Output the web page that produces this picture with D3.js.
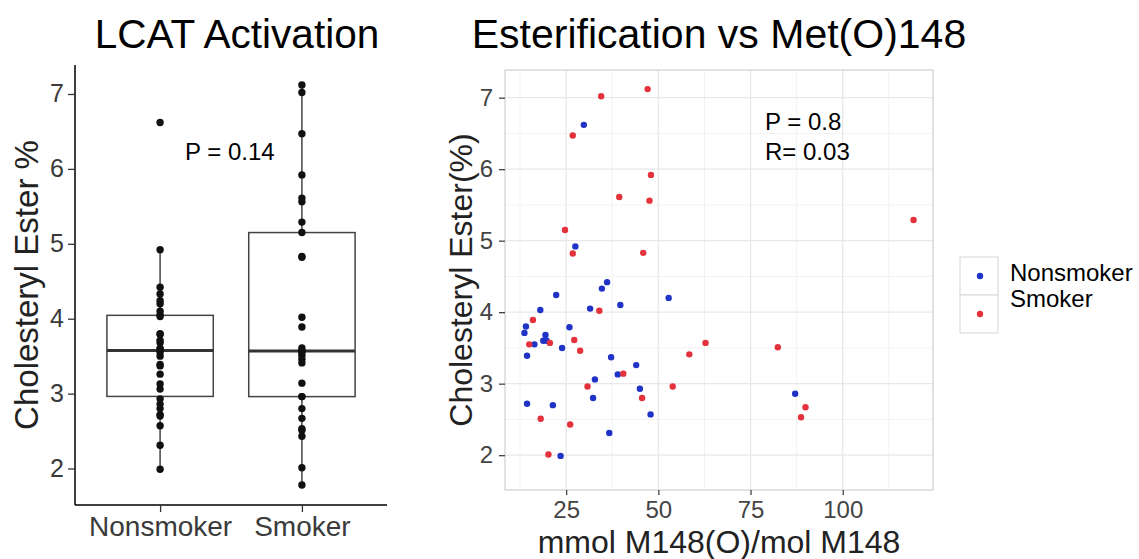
<!DOCTYPE html>
<html>
<head>
<meta charset="utf-8">
<script src="https://cdn.jsdelivr.net/npm/d3@7"></script>
<style>
  body { margin: 0; background: #fff; }
  svg { display: block; font-family: "Liberation Sans", Arial, sans-serif; }
</style>
</head>
<body>
<div id="container"></div>
<script>
//-----------------------------DATA-----------------------------//
const groups = ["Nonsmoker", "Smoker"];
// Met(O)148 (mmol/mol M148) and cholesteryl ester % per subject
const nonsmokerMetO = [29.8, 27.5, 36.1, 34.7, 22.3, 52.8, 39.7, 31.5, 18.0, 14.1, 13.7, 25.9, 19.4, 18.8, 19.7,
    16.4, 23.9, 14.4, 37.2, 44.0, 39.0, 32.8, 45.0, 32.3, 14.4, 21.4, 47.9, 36.7, 23.5, 87.1];
const nonsmokerCE = [6.62, 4.92, 4.42, 4.33, 4.24, 4.20, 4.10, 4.05, 4.03, 3.80, 3.71, 3.79, 3.68, 3.60, 3.60,
    3.55, 3.50, 3.39, 3.37, 3.26, 3.13, 3.06, 2.93, 2.80, 2.72, 2.70, 2.57, 2.31, 1.99, 2.86];
// last smoker has no Met(O) value, only shows in the box plot
const smokerMetO = [47.1, 34.5, 26.8, 48.0, 39.4, 47.6, 24.7, 26.8, 45.9, 119.2, 34.0, 16.0, 20.6, 15.0, 27.2,
    28.8, 40.5, 30.8, 53.9, 45.6, 18.1, 26.1, 20.2, 58.4, 62.8, 82.4, 89.9, 88.7, null];
const smokerCE = [7.12, 7.02, 6.47, 5.92, 5.61, 5.56, 5.15, 4.82, 4.83, 5.29, 4.02, 3.89, 3.57, 3.55, 3.61,
    3.46, 3.14, 2.96, 2.96, 2.80, 2.51, 2.43, 2.01, 3.41, 3.57, 3.51, 2.67, 2.53, 1.78];
const ceTicks = [2, 3, 4, 5, 6, 7];
const metTicks = [25, 50, 75, 100];
const metMinor = [12.5, 37.5, 62.5, 87.5, 112.5];
const ceMinor = [2.5, 3.5, 4.5, 5.5, 6.5];
const boxPValue = "P = 0.14";
const scatterStats = ["P = 0.8", "R= 0.03"];

const colors = {Nonsmoker: "#1f33c6", Smoker: "#e3323b"};

const width = 1139, height = 559;
const svg = d3.select("#container").append("svg")
    .attr("width", width)
    .attr("height", height);

// ggplot style 5% expansion
function expand(ext) {
    const d = (ext[1] - ext[0]) * 0.05;
    return [ext[0] - d, ext[1] + d];
}
const ceDomain = expand(d3.extent(nonsmokerCE.concat(smokerCE)));

//------------------------1. BOX PLOT---------------------------//
const L = {left: 75, right: 387, top: 65, bottom: 505};

const xBox = d3.scalePoint().domain(groups).range([L.left, L.right]).padding(0.6);
const yBox = d3.scaleLinear().domain(ceDomain).range([L.bottom, L.top]);

function boxStats(values) {
    const s = values.slice().sort(d3.ascending);
    const q1 = d3.quantileSorted(s, 0.25);
    const med = d3.quantileSorted(s, 0.5);
    const q3 = d3.quantileSorted(s, 0.75);
    const iqr = q3 - q1;
    const lo = d3.min(s.filter(v => v >= q1 - 1.5 * iqr));
    const hi = d3.max(s.filter(v => v <= q3 + 1.5 * iqr));
    return {q1: q1, med: med, q3: q3, lo: lo, hi: hi};
}
const boxData = [
    {group: "Nonsmoker", values: nonsmokerCE, st: boxStats(nonsmokerCE)},
    {group: "Smoker", values: smokerCE, st: boxStats(smokerCE)}
];
const bw = xBox.step() * 0.75;

const boxes = svg.append("g").selectAll("g")
    .data(boxData)
    .enter()
    .append("g");

// whiskers
boxes.append("line")
    .attr("x1", d => xBox(d.group)).attr("x2", d => xBox(d.group))
    .attr("y1", d => yBox(d.st.hi)).attr("y2", d => yBox(d.st.q3))
    .attr("stroke", "#444").attr("stroke-width", 1.5);
boxes.append("line")
    .attr("x1", d => xBox(d.group)).attr("x2", d => xBox(d.group))
    .attr("y1", d => yBox(d.st.q1)).attr("y2", d => yBox(d.st.lo))
    .attr("stroke", "#444").attr("stroke-width", 1.5);

boxes.append("rect")
    .attr("x", d => xBox(d.group) - bw / 2)
    .attr("width", bw)
    .attr("y", d => yBox(d.st.q3))
    .attr("height", d => yBox(d.st.q1) - yBox(d.st.q3))
    .attr("fill", "#fff")
    .attr("stroke", "#444")
    .attr("stroke-width", 1.5);

boxes.append("line")
    .attr("x1", d => xBox(d.group) - bw / 2).attr("x2", d => xBox(d.group) + bw / 2)
    .attr("y1", d => yBox(d.st.med)).attr("y2", d => yBox(d.st.med))
    .attr("stroke", "#333").attr("stroke-width", 3);

boxes.selectAll("circle")
    .data(d => d.values.map(v => ({group: d.group, v: v})))
    .enter()
    .append("circle")
    .attr("cx", d => xBox(d.group))
    .attr("cy", d => yBox(d.v))
    .attr("r", 3.7)
    .attr("fill", "#111");

// axes
const yAxisL = svg.append("g")
    .attr("transform", "translate(" + L.left + ",0)")
    .call(d3.axisLeft(yBox).tickValues(ceTicks).tickFormat(d3.format("d")).tickSize(7).tickPadding(4));
const xAxisL = svg.append("g")
    .attr("transform", "translate(0," + L.bottom + ")")
    .call(d3.axisBottom(xBox).tickSize(7).tickPadding(4));
[yAxisL, xAxisL].forEach(function (ax) {
    ax.select(".domain").attr("stroke", "#000").attr("stroke-width", 1.5);
    ax.selectAll(".tick line").attr("stroke", "#333").attr("stroke-width", 1.3);
    ax.selectAll(".tick text").attr("fill", "#3a3a3a").style("font-size", "25px");
});
xAxisL.select(".domain").attr("d", "M" + L.left + ",0H" + L.right);
yAxisL.select(".domain").attr("d", "M0," + L.top + "V" + L.bottom);
xAxisL.selectAll(".tick text").style("font-size", "28px");

svg.append("text")
    .attr("transform", "translate(38," + ((L.top + L.bottom) / 2) + ") rotate(-90)")
    .attr("text-anchor", "middle")
    .style("font-size", "33px")
    .attr("fill", "#222")
    .text("Cholesteryl Ester %");

svg.append("text")
    .attr("x", 237).attr("y", 48)
    .attr("text-anchor", "middle")
    .style("font-size", "40.5px")
    .text("LCAT Activation");

svg.append("text")
    .attr("x", 185).attr("y", 160)
    .style("font-size", "24px")
    .text(boxPValue);

//------------------------2. SCATTER----------------------------//
const R = {left: 505, right: 933, top: 70, bottom: 490};

const points = nonsmokerMetO.map((m, i) => ({group: "Nonsmoker", x: m, y: nonsmokerCE[i]}))
    .concat(smokerMetO.map((m, i) => ({group: "Smoker", x: m, y: smokerCE[i]})))
    .filter(d => d.x != null);

const xSc = d3.scaleLinear().domain(expand(d3.extent(points, d => d.x))).range([R.left, R.right]);
const ySc = d3.scaleLinear().domain(ceDomain).range([R.bottom, R.top]);

const grid = svg.append("g");
grid.selectAll(".vminor").data(metMinor).enter().append("line")
    .attr("x1", d => xSc(d)).attr("x2", d => xSc(d))
    .attr("y1", R.top).attr("y2", R.bottom)
    .attr("stroke", "#f3f3f3").attr("stroke-width", 1);
grid.selectAll(".hminor").data(ceMinor).enter().append("line")
    .attr("y1", d => ySc(d)).attr("y2", d => ySc(d))
    .attr("x1", R.left).attr("x2", R.right)
    .attr("stroke", "#f3f3f3").attr("stroke-width", 1);
grid.selectAll(".vmajor").data(metTicks).enter().append("line")
    .attr("x1", d => xSc(d)).attr("x2", d => xSc(d))
    .attr("y1", R.top).attr("y2", R.bottom)
    .attr("stroke", "#e8e8e8").attr("stroke-width", 1.3);
grid.selectAll(".hmajor").data(ceTicks).enter().append("line")
    .attr("y1", d => ySc(d)).attr("y2", d => ySc(d))
    .attr("x1", R.left).attr("x2", R.right)
    .attr("stroke", "#e8e8e8").attr("stroke-width", 1.3);

svg.append("g").selectAll("circle")
    .data(points)
    .enter()
    .append("circle")
    .attr("cx", d => xSc(d.x))
    .attr("cy", d => ySc(d.y))
    .attr("r", 3.2)
    .attr("fill", d => colors[d.group]);

svg.append("rect")
    .attr("x", R.left).attr("y", R.top)
    .attr("width", R.right - R.left).attr("height", R.bottom - R.top)
    .attr("fill", "none").attr("stroke", "#cfcfcf").attr("stroke-width", 1.2);

const yAxisR = svg.append("g")
    .attr("transform", "translate(" + R.left + ",0)")
    .call(d3.axisLeft(ySc).tickValues(ceTicks).tickFormat(d3.format("d")).tickSize(6).tickPadding(6));
const xAxisR = svg.append("g")
    .attr("transform", "translate(0," + R.bottom + ")")
    .call(d3.axisBottom(xSc).tickValues(metTicks).tickFormat(d3.format("d")).tickSize(5).tickPadding(6));
[yAxisR, xAxisR].forEach(function (ax) {
    ax.select(".domain").remove();
    ax.selectAll(".tick line").attr("stroke", "#444").attr("stroke-width", 1.3);
    ax.selectAll(".tick text").attr("fill", "#444").style("font-size", "24px");
});

svg.append("text")
    .attr("transform", "translate(472," + ((R.top + R.bottom) / 2) + ") rotate(-90)")
    .attr("text-anchor", "middle")
    .style("font-size", "32px")
    .attr("fill", "#222")
    .text("Cholesteryl Ester(%)");

svg.append("text")
    .attr("x", (R.left + R.right) / 2).attr("y", 553)
    .attr("text-anchor", "middle")
    .style("font-size", "32px")
    .attr("fill", "#222")
    .text("mmol M148(O)/mol M148");

svg.append("text")
    .attr("x", 719).attr("y", 48)
    .attr("text-anchor", "middle")
    .style("font-size", "41px")
    .text("Esterification vs Met(O)148");

svg.append("g").selectAll("text")
    .data(scatterStats)
    .enter()
    .append("text")
    .attr("x", 765)
    .attr("y", (d, i) => 130 + i * 30)
    .style("font-size", "24px")
    .text(d => d);

//-------------------------LEGEND-------------------------------//
const legend = svg.append("g").selectAll("g")
    .data(groups)
    .enter()
    .append("g")
    .attr("transform", (d, i) => "translate(960," + (257 + i * 38) + ")");
legend.append("rect")
    .attr("width", 38).attr("height", 38)
    .attr("fill", "#fff").attr("stroke", "#ddd").attr("stroke-width", 1.2);
legend.append("circle")
    .attr("cx", 20).attr("cy", 19)
    .attr("r", 3.2)
    .attr("fill", d => colors[d]);
legend.append("text")
    .attr("x", 50)
    .attr("y", (d, i) => 24 - i * 12)
    .style("font-size", "24px")
    .text(d => d);
</script>
</body>
</html>
